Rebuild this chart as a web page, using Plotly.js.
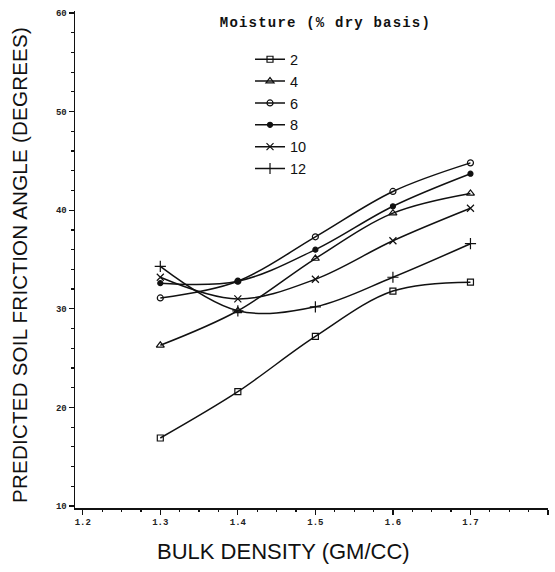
<!DOCTYPE html>
<html>
<head>
<meta charset="utf-8">
<script src="https://cdn.plot.ly/plotly-3.0.1.min.js"></script>
<style>
html,body{margin:0;padding:0;background:#fff;}
#chart{width:555px;height:572px;}
.legend-head text{letter-spacing:1.2px;}
.ytitle-ann text{letter-spacing:0.25px;}
</style>
</head>
<body>
<div id="chart"></div>
<script>
// Bulk density (gm/cc)
const bulkDensity = [1.3, 1.4, 1.5, 1.6, 1.7];
// Predicted soil friction angle (degrees) by moisture (% dry basis)
const moistureLabels = ["2", "4", "6", "8", "10", "12"];
const m2  = [16.9, 21.6, 27.2, 31.8, 32.7];
const m4  = [26.3, 29.8, 35.1, 39.7, 41.7];
const m6  = [31.1, 32.8, 37.3, 41.9, 44.8];
const m8  = [32.6, 32.8, 36.0, 40.4, 43.7];
const m10 = [33.2, 31.0, 33.0, 36.9, 40.2];
const m12 = [34.3, 29.8, 30.2, 33.2, 36.6];
const xTickVals = [1.2, 1.3, 1.4, 1.5, 1.6, 1.7, 1.8];
const xTickText = ["1.2", "1.3", "1.4", "1.5", "1.6", "1.7", "1.8"];
const yTickVals = [10, 20, 30, 40, 50, 60];

const seriesValues = [m2, m4, m6, m8, m10, m12];
const symbols = ["square-open", "triangle-up-open", "circle-open", "circle", "x-thin-open", "cross-thin-open"];
const sizes = [6, 7, 6, 5, 7, 8];

const traces = seriesValues.map((vals, i) => ({
  x: bulkDensity,
  y: vals,
  name: moistureLabels[i],
  type: "scatter",
  mode: "lines+markers",
  line: {color: "#111", width: 1.5, shape: "spline", smoothing: 1},
  marker: {symbol: symbols[i], size: sizes[i], color: "#111", line: {color: "#111", width: 1.2}}
}));

const tickFont = {family: "Liberation Mono, DejaVu Sans Mono, monospace", size: 9, color: "#222", weight: 700};

const layout = {
  width: 555, height: 572,
  margin: {l: 75, r: 7, t: 11, b: 64},
  paper_bgcolor: "#fff", plot_bgcolor: "#fff",
  showlegend: true,
  legend: {
    x: 0.37, y: 0.935, xanchor: "left", yanchor: "top",
    font: {family: "Liberation Sans, Arial, sans-serif", size: 14.5, color: "#111"},
    bgcolor: "rgba(0,0,0,0)", borderwidth: 0, tracegroupgap: 0
  },
  annotations: [{
    text: "Moisture (% dry basis)", xref: "paper", yref: "paper",
    x: 0.329, y: 0.975, xanchor: "left", yanchor: "middle", showarrow: false,
    font: {family: "Liberation Mono, Courier New, monospace", size: 14, color: "#111", weight: 700}
  }, {
    text: "BULK DENSITY (GM/CC)", xref: "paper", yref: "paper",
    x: 0.44, y: -0.0885, xanchor: "center", yanchor: "middle", showarrow: false,
    font: {family: "Liberation Sans, Arial, sans-serif", size: 22, color: "#111"}
  }, {
    text: "PREDICTED SOIL FRICTION ANGLE (DEGREES)", xref: "paper", yref: "paper",
    x: -0.116, y: 0.489, xanchor: "center", yanchor: "middle", showarrow: false, textangle: -90,
    font: {family: "Liberation Sans, Arial, sans-serif", size: 20.5, color: "#111"}
  }],
  xaxis: {
    range: [1.19, 1.8],
    tickmode: "array", tickvals: xTickVals, ticktext: xTickText,
    ticks: "outside", ticklen: 5, tickwidth: 1.2, tickcolor: "#111",
    minor: {dtick: 0.025, tick0: 1.2, ticks: "outside", ticklen: 2, tickcolor: "#111", showgrid: false},
    showline: true, linecolor: "#111", linewidth: 1.5,
    showgrid: false, zeroline: false,
    tickfont: tickFont
  },
  yaxis: {
    range: [9.8, 60.2],
    tickmode: "array", tickvals: yTickVals,
    ticks: "outside", ticklen: 5, tickwidth: 1.2, tickcolor: "#111",
    minor: {dtick: 2, tick0: 10, ticks: "outside", ticklen: 3, tickcolor: "#111", showgrid: false},
    showline: true, linecolor: "#111", linewidth: 1.5,
    showgrid: false, zeroline: false,
    tickfont: tickFont
  }
};

Plotly.newPlot("chart", traces, layout, {displayModeBar: false, staticPlot: true}).then(function (gd) {
  const ann = gd.querySelectorAll(".annotation");
  if (ann.length > 0) ann[0].classList.add("legend-head");
  if (ann.length > 2) ann[2].classList.add("ytitle-ann");
});
</script>
</body>
</html>
